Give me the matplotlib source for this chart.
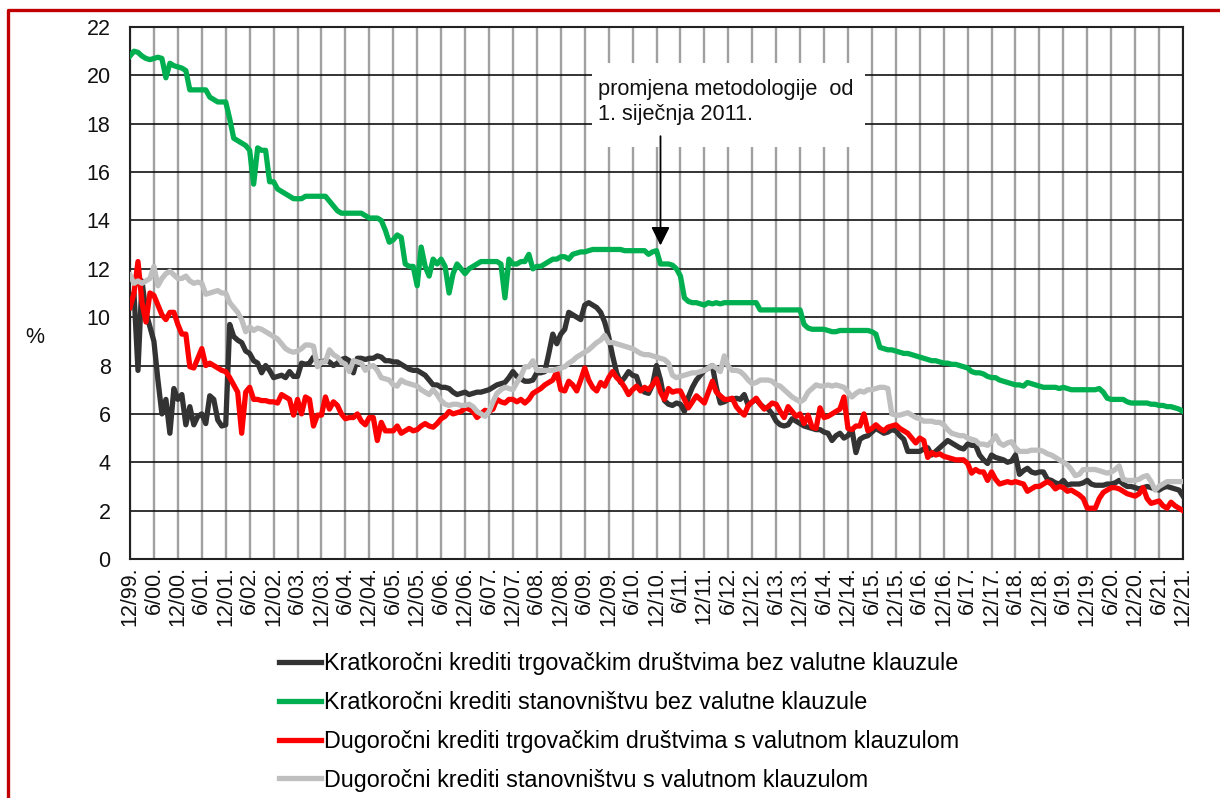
import numpy as np
import pandas as pd
import matplotlib
matplotlib.use("Agg")
import matplotlib.pyplot as plt
from matplotlib.patches import Rectangle
from matplotlib.lines import Line2D

plt.rcParams['font.family'] = ['Liberation Sans', 'DejaVu Sans']

# monthly data, 12/1999 .. 12/2021
months = pd.period_range('1999-12', '2021-12', freq='M')

# Kratkoročni krediti trgovačkim društvima bez valutne klauzule
black = [10.7,
    11.0, 7.8, 11.5, 10.2, 9.6, 9.0, 7.4, 6.0, 6.6, 5.2, 7.05, 6.6,
    6.8, 5.55, 6.3, 5.55, 5.9, 6.0, 5.6, 6.75, 6.6, 5.75, 5.5, 5.55,
    9.7, 9.2, 9.05, 8.95, 8.6, 8.5, 8.2, 8.1, 7.7, 8.0, 7.8, 7.5,
    7.55, 7.6, 7.5, 7.75, 7.55, 7.55, 8.1, 8.05, 8.1, 8.35, 8.15, 8.15,
    8.2, 8.15, 8.0, 8.1, 8.25, 8.3, 8.2, 7.7, 8.3, 8.3, 8.25, 8.3,
    8.3, 8.4, 8.35, 8.2, 8.2, 8.15, 8.15, 8.05, 7.95, 7.85, 7.8, 7.8,
    7.7, 7.6, 7.4, 7.2, 7.2, 7.1, 7.1, 7.05, 6.9, 6.8, 6.85, 6.9,
    6.8, 6.85, 6.9, 6.9, 6.95, 7.0, 7.1, 7.2, 7.25, 7.3, 7.5, 7.75,
    7.55, 7.45, 7.35, 7.35, 7.4, 7.7, 7.7, 7.75, 8.5, 9.3, 8.9, 9.3,
    9.5, 10.2, 10.1, 10.0, 9.9, 10.5, 10.6, 10.5, 10.4, 10.2, 9.8, 9.2,
    8.4, 7.7, 7.3, 7.5, 7.75, 7.6, 7.55, 7.05, 6.9, 6.85, 7.2, 8.0,
    7.4, 6.55, 6.4, 6.35, 6.45, 6.4, 6.1, 6.7, 7.1, 7.4, 7.6, 7.8,
    7.9, 8.0, 7.1, 6.45, 6.5, 6.6, 6.6, 6.65, 6.6, 6.8, 6.35, 6.5,
    6.6, 6.4, 6.25, 6.2, 6.0, 5.7, 5.55, 5.5, 5.55, 5.8, 5.7, 5.6,
    5.5, 5.45, 5.4, 5.35, 5.35, 5.25, 5.2, 4.9, 5.1, 5.2, 5.0, 5.1,
    5.35, 4.4, 4.95, 5.05, 5.1, 5.25, 5.4, 5.3, 5.2, 5.25, 5.35, 5.3,
    5.1, 4.95, 4.45, 4.45, 4.45, 4.45, 4.55, 4.6, 4.3, 4.45, 4.6, 4.75,
    4.9, 4.8, 4.7, 4.6, 4.55, 4.75, 4.7, 4.7, 4.3, 4.1, 3.95, 4.3,
    4.2, 4.15, 4.1, 4.0, 4.05, 4.3, 3.5, 3.65, 3.75, 3.6, 3.55, 3.6,
    3.6, 3.3, 3.25, 3.15, 3.1, 3.25, 3.05, 3.1, 3.1, 3.1, 3.15, 3.25,
    3.1, 3.05, 3.05, 3.05, 3.1, 3.1, 3.15, 3.25, 3.1, 3.0, 3.0, 2.95,
    2.9, 2.95, 3.0, 2.95, 2.9, 2.85, 2.95, 3.0, 2.95, 2.9, 2.85, 2.6]

# Kratkoročni krediti stanovništvu bez valutne klauzule
green = [20.8,
    21.0, 20.95, 20.8, 20.7, 20.65, 20.7, 20.75, 20.7, 19.9, 20.5, 20.4, 20.35,
    20.3, 20.2, 19.4, 19.4, 19.4, 19.4, 19.4, 19.1, 19.0, 18.9, 18.9, 18.9,
    18.2, 17.4, 17.3, 17.2, 17.1, 16.9, 15.5, 17.0, 16.9, 16.9, 15.6, 15.6,
    15.3, 15.2, 15.1, 15.0, 14.9, 14.9, 14.9, 15.0, 15.0, 15.0, 15.0, 15.0,
    15.0, 14.8, 14.6, 14.4, 14.3, 14.3, 14.3, 14.3, 14.3, 14.3, 14.2, 14.1,
    14.1, 14.1, 14.0, 13.6, 13.1, 13.2, 13.4, 13.3, 12.2, 12.1, 12.1, 11.3,
    12.9, 12.1, 11.7, 12.4, 12.2, 12.4, 12.1, 11.0, 11.8, 12.2, 12.0, 11.8,
    12.0, 12.1, 12.2, 12.3, 12.3, 12.3, 12.3, 12.3, 12.2, 10.8, 12.4, 12.2,
    12.2, 12.3, 12.3, 12.6, 12.0, 12.1, 12.1, 12.2, 12.3, 12.4, 12.4, 12.5,
    12.5, 12.4, 12.6, 12.65, 12.7, 12.7, 12.75, 12.8, 12.8, 12.8, 12.8, 12.8,
    12.8, 12.8, 12.8, 12.75, 12.75, 12.75, 12.75, 12.75, 12.75, 12.6, 12.7, 12.75,
    12.2, 12.2, 12.2, 12.15, 12.0, 11.7, 10.8, 10.65, 10.6, 10.6, 10.55, 10.5,
    10.6, 10.55, 10.6, 10.55, 10.6, 10.6, 10.6, 10.6, 10.6, 10.6, 10.6, 10.6,
    10.6, 10.3, 10.3, 10.3, 10.3, 10.3, 10.3, 10.3, 10.3, 10.3, 10.3, 10.3,
    9.7, 9.55, 9.5, 9.5, 9.5, 9.5, 9.45, 9.4, 9.4, 9.45, 9.45, 9.45,
    9.45, 9.45, 9.45, 9.45, 9.45, 9.4, 9.3, 8.75, 8.7, 8.65, 8.65, 8.6,
    8.55, 8.5, 8.5, 8.45, 8.4, 8.35, 8.3, 8.25, 8.2, 8.2, 8.15, 8.1,
    8.1, 8.05, 8.05, 8.0, 7.95, 7.9, 7.75, 7.7, 7.7, 7.65, 7.55, 7.5,
    7.5, 7.4, 7.35, 7.3, 7.25, 7.2, 7.2, 7.15, 7.3, 7.25, 7.2, 7.15,
    7.1, 7.1, 7.1, 7.1, 7.05, 7.1, 7.05, 7.0, 7.0, 7.0, 7.0, 7.0,
    7.0, 7.0, 7.05, 6.9, 6.65, 6.6, 6.6, 6.6, 6.6, 6.5, 6.45, 6.45,
    6.45, 6.45, 6.45, 6.4, 6.4, 6.35, 6.35, 6.3, 6.3, 6.25, 6.2, 6.1]

# Dugoročni krediti trgovačkim društvima s valutnom klauzulom
red = [10.4,
    11.0, 12.3, 10.6, 9.8, 11.0, 10.9, 10.5, 10.1, 9.9, 10.2, 10.2, 9.7,
    9.3, 9.3, 7.95, 7.9, 8.3, 8.7, 8.0, 8.1, 8.0, 7.9, 7.8, 7.75,
    7.5, 7.2, 6.9, 5.2, 6.9, 7.1, 6.6, 6.6, 6.55, 6.55, 6.5, 6.5,
    6.45, 6.8, 6.7, 6.6, 5.95, 6.6, 6.0, 6.7, 6.6, 5.5, 5.95, 5.95,
    6.7, 6.2, 6.5, 6.35, 6.0, 5.8, 5.85, 5.85, 6.0, 5.7, 5.55, 5.85,
    5.85, 4.9, 5.65, 5.3, 5.3, 5.3, 5.5, 5.2, 5.3, 5.4, 5.3, 5.35,
    5.5, 5.6, 5.5, 5.45, 5.6, 5.8, 5.9, 6.1, 6.0, 6.05, 6.1, 6.25,
    6.2, 6.1, 5.85, 6.0, 6.15, 6.1, 6.2, 6.6, 6.5, 6.45, 6.6, 6.6,
    6.5, 6.6, 6.45, 6.6, 6.85, 6.95, 7.05, 7.2, 7.3, 7.4, 7.75, 7.0,
    6.95, 7.35, 7.2, 6.95, 7.4, 7.9, 7.4, 7.1, 6.95, 7.3, 7.15, 7.5,
    7.75, 7.5, 7.35, 7.1, 6.8, 7.0, 7.15, 6.95, 7.1, 7.0, 7.2, 7.45,
    6.9, 6.6, 7.05, 6.9, 6.95, 6.95, 6.6, 6.25, 6.5, 6.75, 6.6, 6.45,
    6.9, 7.35, 6.9, 6.75, 6.6, 6.6, 6.65, 6.3, 6.1, 5.95, 6.35, 6.5,
    6.65, 6.4, 6.2, 6.3, 6.45, 6.4, 6.1, 5.85, 6.3, 6.1, 5.9, 6.0,
    5.6, 5.95, 5.45, 5.4, 6.25, 5.85, 5.9, 6.0, 6.1, 6.2, 6.7, 5.4,
    5.35, 5.5, 5.5, 6.0, 5.3, 5.4, 5.55, 5.4, 5.3, 5.45, 5.5, 5.55,
    5.4, 5.3, 5.2, 5.0, 4.8, 5.0, 4.9, 4.2, 4.4, 4.3, 4.35, 4.25,
    4.2, 4.15, 4.1, 4.1, 4.1, 3.95, 3.55, 3.7, 3.6, 3.6, 3.25, 3.6,
    3.3, 3.1, 3.15, 3.2, 3.15, 3.2, 3.15, 3.1, 2.8, 2.9, 3.0, 3.0,
    3.1, 3.2, 3.1, 2.9, 3.0, 2.95, 2.8, 2.85, 2.75, 2.65, 2.5, 2.1,
    2.1, 2.1, 2.5, 2.75, 2.85, 2.95, 2.95, 2.9, 2.8, 2.7, 2.65, 2.6,
    2.7, 2.95, 2.5, 2.3, 2.35, 2.4, 2.2, 2.1, 2.35, 2.2, 2.1, 2.0]

# Dugoročni krediti stanovništvu s valutnom klauzulom
gray = [11.75,
    11.4, 11.5, 11.4, 11.5, 11.6, 12.1, 11.3, 11.6, 11.8, 11.9, 11.75, 11.6,
    11.6, 11.7, 11.5, 11.4, 11.45, 11.4, 10.95, 11.0, 11.05, 11.1, 11.0, 11.0,
    10.6, 10.4, 10.2, 9.9, 9.4, 9.6, 9.45, 9.55, 9.5, 9.4, 9.3, 9.2,
    9.1, 8.9, 8.7, 8.6, 8.55, 8.6, 8.7, 8.85, 8.85, 8.8, 7.95, 8.15,
    8.15, 8.65, 8.45, 8.35, 8.15, 8.05, 7.75, 8.2, 8.15, 8.1, 7.8, 7.95,
    8.0, 7.8, 7.5, 7.45, 7.4, 7.2, 7.15, 7.4, 7.3, 7.25, 7.2, 7.15,
    7.0, 6.9, 6.8, 7.0, 6.8, 6.55, 6.4, 6.35, 6.4, 6.4, 6.35, 6.35,
    6.4, 6.3, 6.1, 6.0, 5.9, 6.1, 6.5, 6.85, 7.0, 7.1, 7.05, 7.0,
    7.3, 7.55, 7.95, 7.95, 8.2, 7.8, 7.8, 7.8, 7.8, 7.8, 7.85, 7.9,
    7.95, 8.1, 8.2, 8.35, 8.45, 8.55, 8.65, 8.8, 8.95, 9.05, 9.25, 8.95,
    8.95, 8.9, 8.85, 8.8, 8.75, 8.7, 8.6, 8.5, 8.45, 8.45, 8.4, 8.35,
    8.3, 8.25, 8.1, 7.6, 7.5, 7.55, 7.6, 7.65, 7.7, 7.7, 7.75, 7.8,
    7.9, 8.0, 7.9, 7.75, 8.4, 7.95, 7.8, 7.8, 7.75, 7.6, 7.4, 7.25,
    7.3, 7.4, 7.4, 7.4, 7.35, 7.2, 7.15, 7.0, 6.85, 6.7, 6.6, 6.5,
    6.6, 6.9, 7.05, 7.2, 7.15, 7.15, 7.2, 7.15, 7.2, 7.15, 7.1, 6.9,
    6.7, 6.85, 6.95, 6.9, 7.0, 7.0, 7.05, 7.1, 7.1, 7.05, 6.0, 5.95,
    5.95, 6.0, 6.05, 5.95, 5.85, 5.8, 5.7, 5.7, 5.7, 5.65, 5.65, 5.55,
    5.35, 5.2, 5.15, 5.1, 5.1, 5.0, 4.95, 4.9, 4.75, 4.75, 4.7, 4.85,
    5.1, 4.8, 4.7, 4.8, 4.85, 4.6, 4.45, 4.45, 4.45, 4.5, 4.5, 4.5,
    4.45, 4.35, 4.3, 4.2, 4.1, 4.0, 3.9, 3.7, 3.45, 3.5, 3.7, 3.7,
    3.7, 3.7, 3.65, 3.6, 3.55, 3.6, 3.7, 3.85, 3.3, 3.25, 3.25, 3.25,
    3.3, 3.4, 3.45, 3.2, 2.85, 3.0, 3.1, 3.2, 3.2, 3.2, 3.2, 3.2]

labels = ['Kratkoročni krediti trgovačkim društvima bez valutne klauzule',
          'Kratkoročni krediti stanovništvu bez valutne klauzule',
          'Dugoročni krediti trgovačkim društvima s valutnom klauzulom',
          'Dugoročni krediti stanovništvu s valutnom klauzulom']
colors = ['#333333', '#00b050', '#ff0000', '#bfbfbf']
note = 'promjena metodologije  od\n1. siječnja 2011.'
note_month = pd.Period('2011-01', freq='M')

x = np.arange(len(months))
tick_pos = [i for i, p in enumerate(months) if p.month in (6, 12)]
tick_lab = [f'{months[i].month}/{months[i].year % 100:02d}.' for i in tick_pos]

fig = plt.figure(figsize=(12.2, 7.98), dpi=100)
ax = fig.add_axes([130/1220, 1-559/798, 1053/1220, 532/798])

for series, col, lab in zip([black, green, red, gray], colors, labels):
    ax.plot(x, series, color=col, lw=3.8, label=lab, solid_joinstyle='round', zorder=3)

ax.set_xlim(0, len(months) - 1)
ax.set_ylim(0, 22)
ax.set_yticks(range(0, 23, 2))
ax.set_xticks(tick_pos)
ax.set_xticklabels(tick_lab, rotation=90, ha='center', va='top')
ax.tick_params(axis='both', length=0, labelsize=15.5, colors='#111111')
ax.tick_params(axis='y', pad=14)
ax.tick_params(axis='x', pad=5)
ax.set_axisbelow(True)
ax.grid(axis='x', color='#a0a0a0', lw=1.7)
ax.grid(axis='y', color='#111111', lw=1.2)
for s in ax.spines.values():
    s.set_color('#222222')
    s.set_linewidth(1.5)

# note box with arrow
nx = note_month.ordinal - months[0].ordinal
ax.add_patch(Rectangle((115.8, 17.05), 68.5, 3.45, facecolor='white', edgecolor='none', zorder=2))
ax.text(117.3, 19.85, note, fontsize=15.7, va='top', ha='left', linespacing=1.25,
        color='#111111', zorder=4)
ax.annotate('', xy=(nx, 12.85), xytext=(nx, 17.6),
            arrowprops=dict(arrowstyle='-|>', color='black', lw=1.3, mutation_scale=28),
            zorder=4)

fig.text(35/1220, 1-338/798, '%', fontsize=15.5, ha='center', va='center', color='#111111')

handles, labs = ax.get_legend_handles_labels()
fig.legend(handles, labs, loc='upper left', bbox_to_anchor=(279/1220, 1-652/798),
           frameon=False, fontsize=16.8, handlelength=1.8, handletextpad=0.12,
           labelspacing=0.68, borderpad=0, borderaxespad=0)

# red frame
fig.add_artist(Line2D([8/1220, 8/1220, 1.0], [0.0, 1-10/798, 1-10/798],
                      color='#c00000', lw=2.4, transform=fig.transFigure))

fig.savefig('out.png', dpi=100)
